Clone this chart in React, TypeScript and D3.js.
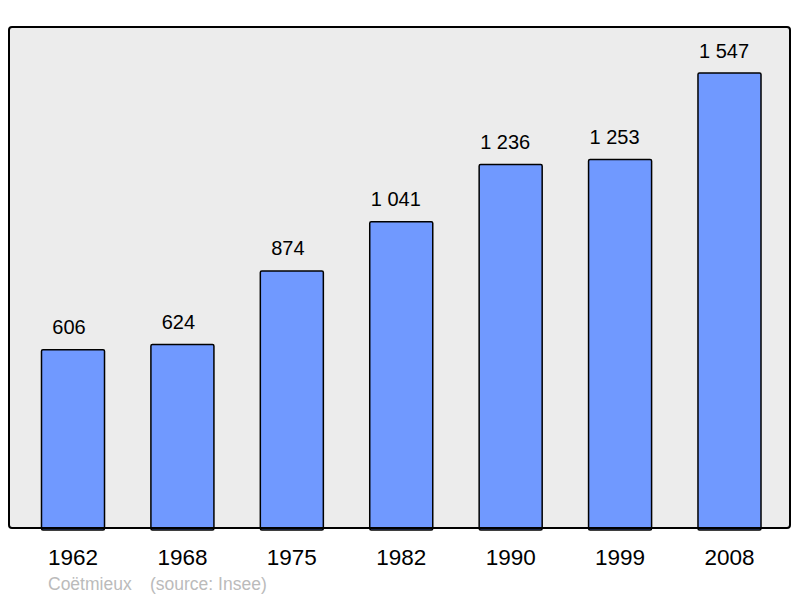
import * as d3 from 'd3';

const years = ['1962', '1968', '1975', '1982', '1990', '1999', '2008'];
const population = [606, 624, 874, 1041, 1236, 1253, 1547];
const commune = 'Coëtmieux';
const sourceNote = '(source: Insee)';

const W = 800;
const H = 598;
const frame = { left: 9, top: 27, right: 790, bottom: 528 };

// thousands separated by a plain space, as in the original
const fmt = (v: number) => d3.format(',')(v).replace(/,/g, ' ');

export default function App() {
  const x = d3.scaleBand<string>()
    .domain(years)
    .range([18.3, 784.2])
    .paddingInner(0.424)
    .paddingOuter(0.212);

  const y = d3.scaleLinear()
    .domain([0, d3.max(population) as number])
    .range([frame.bottom, 73]);

  return (
    <svg width={W} height={H} style={{ position: 'absolute', left: 0, top: 0 }}
      fontFamily="'Liberation Sans', Arial, sans-serif">
      <rect x={0} y={0} width={W} height={H} fill="#ffffff" />
      <rect x={frame.left} y={frame.top} width={frame.right - frame.left}
        height={frame.bottom - frame.top} fill="#ececec" />
      {years.map((yr, i) => {
        const v = population[i];
        const bx = x(yr) as number;
        const cx = bx + x.bandwidth() / 2;
        return (
          <g key={yr}>
            <rect x={bx} y={y(v)} width={x.bandwidth()} height={frame.bottom - y(v) + 2}
              rx={1.5} fill="#7099ff" stroke="#000" strokeWidth={1.5} />
            {/* value labels sit slightly left of the bar centre in the source */}
            <text x={cx} dx={v >= 1000 ? -5.5 : -4} y={y(v) - 15.5} textAnchor="middle"
              fontSize={20} fill="#000">{fmt(v)}</text>
            <text x={cx} y={565} textAnchor="middle"
              fontSize={22.5} fill="#000">{yr}</text>
          </g>
        );
      })}
      <rect x={frame.left} y={frame.top} width={frame.right - frame.left}
        height={frame.bottom - frame.top} rx={3} fill="none" stroke="#000" strokeWidth={2} />
      <text x={48} y={590} fontSize={17.5} fill="#bbbbbb">{commune}</text>
      <text x={150} y={590} fontSize={17.5} fill="#bbbbbb">{sourceNote}</text>
    </svg>
  );
}
